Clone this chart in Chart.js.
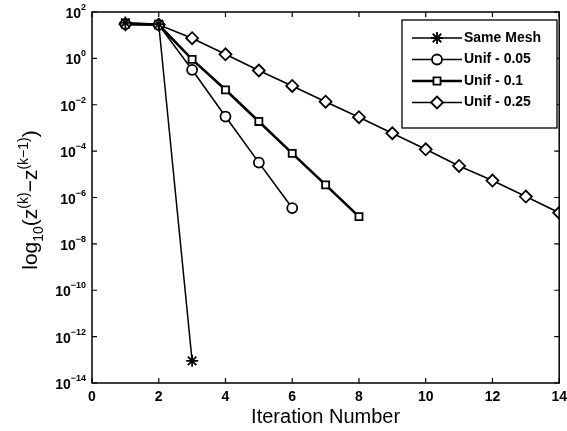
<!DOCTYPE html>
<html>
<head>
<meta charset="utf-8">
<script src="https://cdn.jsdelivr.net/npm/chart.js@4"></script>
<style>
  html, body { margin: 0; padding: 0; background: #fff; }
  #wrap { width: 567px; height: 431px; }
</style>
</head>
<body>
<div id="wrap"><canvas id="chart"></canvas></div>
<script>
// values
const iterations = [1, 2, 3, 4, 5, 6, 7, 8, 9, 10, 11, 12, 13, 14];
const sameMesh = [35, 30, 9e-14];
const unif005 = [30, 28, 0.32, 0.0031, 3.2e-5, 3.5e-7];
const unif01 = [30, 28, 0.9, 0.044, 0.0019, 8e-5, 3.5e-6, 1.5e-7];
const unif025 = [30, 28, 7.4, 1.5, 0.3, 0.065, 0.0135, 0.0029, 5.9e-4, 1.2e-4, 2.3e-5, 5.4e-6, 1.1e-6, 2.2e-7];
const seriesNames = ["Same Mesh", "Unif - 0.05", "Unif - 0.1", "Unif - 0.25"];
const xTicks = [0, 2, 4, 6, 8, 10, 12, 14];
const yTickExps = [2, 0, -2, -4, -6, -8, -10, -12, -14];

const FONT = "'Liberation Sans', Arial, sans-serif";

const pts = (vals) => vals.map((v, i) => ({ x: iterations[i], y: v }));

// frame, inside ticks, y tick labels, y title, legend
const matlabAxes = {
  id: "matlabAxes",
  afterDraw(chart) {
    const { ctx, chartArea: a, scales } = chart;
    const xs = scales.x, ys = scales.y;
    ctx.save();
    ctx.strokeStyle = "#000";
    ctx.lineWidth = 1.5;
    ctx.strokeRect(a.left, a.top, a.right - a.left, a.bottom - a.top);
    ctx.lineWidth = 1.2;
    ctx.beginPath();
    xTicks.forEach((t) => {
      const px = xs.getPixelForValue(t);
      ctx.moveTo(px, a.bottom); ctx.lineTo(px, a.bottom - 5);
      ctx.moveTo(px, a.top); ctx.lineTo(px, a.top + 5);
    });
    yTickExps.forEach((e) => {
      const py = ys.getPixelForValue(Math.pow(10, e));
      ctx.moveTo(a.left, py); ctx.lineTo(a.left + 5, py);
      ctx.moveTo(a.right, py); ctx.lineTo(a.right - 5, py);
    });
    ctx.stroke();

    // y tick labels 10^n
    ctx.fillStyle = "#000";
    ctx.textBaseline = "alphabetic";
    yTickExps.forEach((e) => {
      const py = ys.getPixelForValue(Math.pow(10, e));
      const sup = String(e).replace("-", "\u2212");
      ctx.font = "bold 9px " + FONT;
      const sw = ctx.measureText(sup).width;
      ctx.font = "bold 14px " + FONT;
      const bw = ctx.measureText("10").width;
      const right = a.left - 6;
      ctx.textAlign = "left";
      ctx.fillText("10", right - sw - bw, py + 6);
      ctx.font = "bold 9px " + FONT;
      ctx.fillText(sup, right - sw, py - 2);
    });

    // y axis title
    ctx.save();
    ctx.translate(37, 200);
    ctx.rotate(-Math.PI / 2);
    const parts = [
      ["log", 21, 0], ["10", 14, 6], ["(z", 21, 0], ["(k)", 14, -9],
      ["\u2212z", 21, 0], ["(k\u22121)", 14, -9], [")", 21, 0]
    ];
    let total = 0;
    parts.forEach(([t, s]) => { ctx.font = s + "px " + FONT; total += ctx.measureText(t).width; });
    let x0 = -total / 2;
    ctx.textAlign = "left";
    parts.forEach(([t, s, dy]) => {
      ctx.font = s + "px " + FONT;
      ctx.fillText(t, x0, dy);
      x0 += ctx.measureText(t).width;
    });
    ctx.restore();

    // legend
    const bx = 402, by = 20, bw2 = 155, bh = 108;
    ctx.fillStyle = "#fff";
    ctx.fillRect(bx, by, bw2, bh);
    ctx.lineWidth = 1.3;
    ctx.strokeStyle = "#000";
    ctx.strokeRect(bx, by, bw2, bh);
    chart.data.datasets.forEach((ds, i) => {
      const cy = by + 18 + i * 21.5;
      ctx.strokeStyle = "#000";
      ctx.lineWidth = ds.borderWidth;
      ctx.beginPath();
      ctx.moveTo(bx + 10, cy); ctx.lineTo(bx + 60, cy);
      ctx.stroke();
      ctx.fillStyle = "#fff";
      ctx.lineWidth = ds.pointBorderWidth;
      Chart.helpers.drawPoint(ctx, {
        pointStyle: ds.pointStyle, radius: ds.pointRadius, borderWidth: ds.pointBorderWidth, rotation: 0
      }, bx + 35, cy);
      ctx.fillStyle = "#000";
      ctx.font = "bold 14px " + FONT;
      ctx.textAlign = "left";
      ctx.textBaseline = "middle";
      ctx.fillText(ds.label, bx + 62, cy);
    });
    ctx.restore();
  }
};

function series(label, vals, style, radius, width) {
  return {
    label: label,
    data: pts(vals),
    borderColor: "#000",
    backgroundColor: "#fff",
    borderWidth: width,
    pointStyle: style,
    pointRadius: radius,
    pointBorderWidth: 1.8,
    pointBackgroundColor: "#fff",
    pointBorderColor: "#000",
    tension: 0,
    fill: false,
  };
}

new Chart(document.getElementById("chart"), {
  type: "line",
  data: {
    datasets: [
      series(seriesNames[0], sameMesh, "star", 6, 1.5),
      series(seriesNames[1], unif005, "circle", 5, 1.6),
      series(seriesNames[2], unif01, "rect", 5, 2.6),
      series(seriesNames[3], unif025, "rectRot", 6, 1.6),
    ],
  },
  options: {
    responsive: true,
    maintainAspectRatio: false,
    animation: false,
    layout: { padding: { left: 92, right: 3, top: 12, bottom: 0 } },
    scales: {
      x: {
        type: "linear",
        min: 0,
        max: 14,
        grid: { display: false, drawTicks: false },
        border: { display: false },
        afterBuildTicks: (s) => { s.ticks = xTicks.map((v) => ({ value: v })); },
        afterFit: (s) => { s.height = 48; s.paddingLeft = 0; s.paddingRight = 0; },
        ticks: { color: "#000", padding: 6, maxRotation: 0, font: { family: FONT, size: 14, weight: "bold" } },
        title: { display: true, text: "Iteration Number", color: "#000", padding: { top: 0, bottom: 2 }, font: { family: FONT, size: 20 } },
      },
      y: {
        type: "logarithmic",
        min: 1e-14,
        max: 1e2,
        grid: { display: false },
        border: { display: false },
        ticks: { display: false },
        afterFit: (s) => { s.width = 0; },
      },
    },
    plugins: {
      legend: { display: false },
      tooltip: { enabled: false },
    },
  },
  plugins: [matlabAxes],
});
</script>
</body>
</html>
